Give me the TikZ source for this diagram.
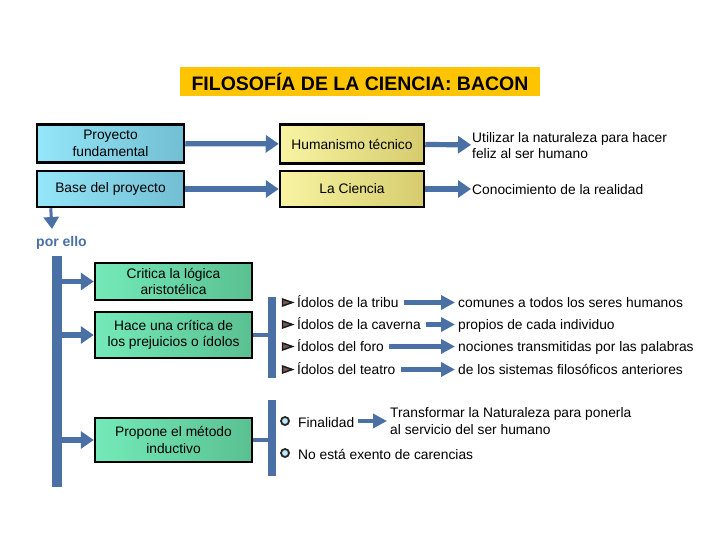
\documentclass[tikz,border=0pt]{standalone}
\usepackage{fontspec}
\setmainfont{Liberation Sans}
\usetikzlibrary{arrows.meta,shapes.geometric,positioning,calc}

\definecolor{bacblue}{HTML}{4A70A6}
\definecolor{titlegold}{HTML}{FFC400}
\definecolor{cyanL}{HTML}{94E6F8}
\definecolor{cyanR}{HTML}{72BED2}
\definecolor{yelL}{HTML}{F8F4A2}
\definecolor{yelR}{HTML}{D6CC6E}
\definecolor{grnL}{HTML}{74EAB8}
\definecolor{grnR}{HTML}{5AC092}

\begin{document}
\begin{tikzpicture}[
    x=1pt, y=-1pt,
    font=\fontsize{13.8}{16.5}\selectfont,
    box/.style={rectangle, draw=black, line width=2.5pt, align=center, inner sep=2pt},
    cbox/.style={box, left color=cyanL, right color=cyanR, minimum width=147pt},
    ybox/.style={box, left color=yelL, right color=yelR, minimum width=144pt},
    gbox/.style={box, left color=grnL, right color=grnR, minimum width=157pt},
    bar/.style={rectangle, fill=bacblue, inner sep=0pt},
    flow/.style={-{Triangle[length=13pt,width=17pt]}, line width=5.2pt, bacblue},
    thin flow/.style={-{Triangle[length=14pt,width=14pt]}, line width=4.2pt, bacblue, shorten <=4pt, shorten >=2pt},
    flag/.style={isosceles triangle, isosceles triangle stretches, draw=black!90, fill=black!55!pink, line width=1.4pt, minimum width=7pt, minimum height=10pt, inner sep=0pt},
    dot/.style={circle, draw=black!85, fill=cyan!25!white, line width=1.8pt, minimum size=8pt, inner sep=0pt},
    txt/.style={anchor=west, align=left, inner sep=1pt},
    line/.style={anchor=base west, inner sep=1pt}
]
    \useasboundingbox (0,0) rectangle (720,540);
    % title
    \node[fill=titlegold, minimum width=360pt, minimum height=29pt, font=\fontsize{19.5}{22}\selectfont\bfseries] (title) at (360,82) {FILOSOFÍA DE LA CIENCIA: BACON};
    % first rows
    \node[cbox, minimum height=38pt] (proy) at (110.5,143.5) {Proyecto\\fundamental};
    \node[cbox, minimum height=36pt] (base) at (110.5,189) {Base del proyecto};
    \node[ybox, minimum height=39pt] (hum) at (352,144) {Humanismo técnico};
    \node[ybox, minimum height=36pt] (cien) at (352,189) {La Ciencia};
    \node[txt] (util) at (471,145.5) {Utilizar la naturaleza para hacer\\feliz al ser humano};
    \node[line] (conoc) at (471,195) {Conocimiento de la realidad};
    \draw[flow] (proy) -- (hum);
    \draw[flow] (base) -- (cien);
    \draw[flow] (hum) -- (util);
    \draw[flow] (cien) -- (cien -| conoc.west);
    % por ello
    \coordinate (porend) at (52,229);
    \draw[-{Triangle[length=12pt,width=15pt]}, line width=3pt, bacblue] ([xshift=15pt]base.south west) -- (porend);
    \node[line, font=\fontsize{14}{16}\selectfont\bfseries, text=bacblue] (porello) at (35,246) {por ello};
    % left bar and green boxes
    \node[bar, minimum width=10pt, minimum height=231pt] (lbar) at (57,371.5) {};
    \node[gbox, minimum height=37pt] (crit) at (173.5,281.5) {Critica la lógica\\aristotélica};
    \node[gbox, minimum height=46pt] (hace) at (173.5,335) {Hace una crítica de\\los prejuicios o ídolos};
    \node[gbox, minimum height=44pt] (prop) at (173.5,440) {Propone el método\\inductivo};
    \draw[flow] (lbar.east |- crit) -- (crit);
    \draw[flow] (lbar.east |- hace) -- (hace);
    \draw[flow] (lbar.east |- prop) -- (prop);
    % idols
    \node[bar, minimum width=8pt, minimum height=81pt] (idbar) at (272,337.5) {};
    \draw[line width=4pt, bacblue] (hace.east) -- (hace.east -| idbar.west);
    \node[line] (tribu) at (296,307) {Ídolos de la tribu};
    \node[line] (cav) at (296,329) {Ídolos de la caverna};
    \node[line] (foro) at (296,351) {Ídolos del foro};
    \node[line] (teat) at (296,374) {Ídolos del teatro};
    \node[line] (comun) at (457,307) {comunes a todos los seres humanos};
    \node[line] (propi) at (457,329) {propios de cada individuo};
    \node[line] (nocio) at (457,351) {nociones transmitidas por las palabras};
    \node[line] (sist) at (457,374) {de los sistemas filosóficos anteriores};
    \foreach \a/\b in {tribu/comun, cav/propi, foro/nocio, teat/sist} {
        \node[flag] at ([xshift=-11pt, yshift=4.5pt]\a.base west) {};
        \draw[thin flow] ([yshift=4.5pt]\a.base east) -- ([yshift=4.5pt]\b.base west);
    }
    % method
    \node[bar, minimum width=8pt, minimum height=76pt] (metbar) at (272,438) {};
    \draw[line width=4pt, bacblue] (prop.east) -- (prop.east -| metbar.west);
    \node[line] (final) at (297,427) {Finalidad};
    \node[txt] (trans) at (389,421) {Transformar la Naturaleza para ponerla\\al servicio del ser humano};
    \node[line] (exento) at (297,459) {No está exento de carencias};
    \node[dot] at ([xshift=-12pt, yshift=6pt]final.base west) {};
    \node[dot] at ([xshift=-12pt, yshift=6pt]exento.base west) {};
    \draw[thin flow, shorten <=3pt] ([yshift=6pt]final.base east) -- ([yshift=6pt]final.base east -| trans.west);
\end{tikzpicture}
\end{document}
